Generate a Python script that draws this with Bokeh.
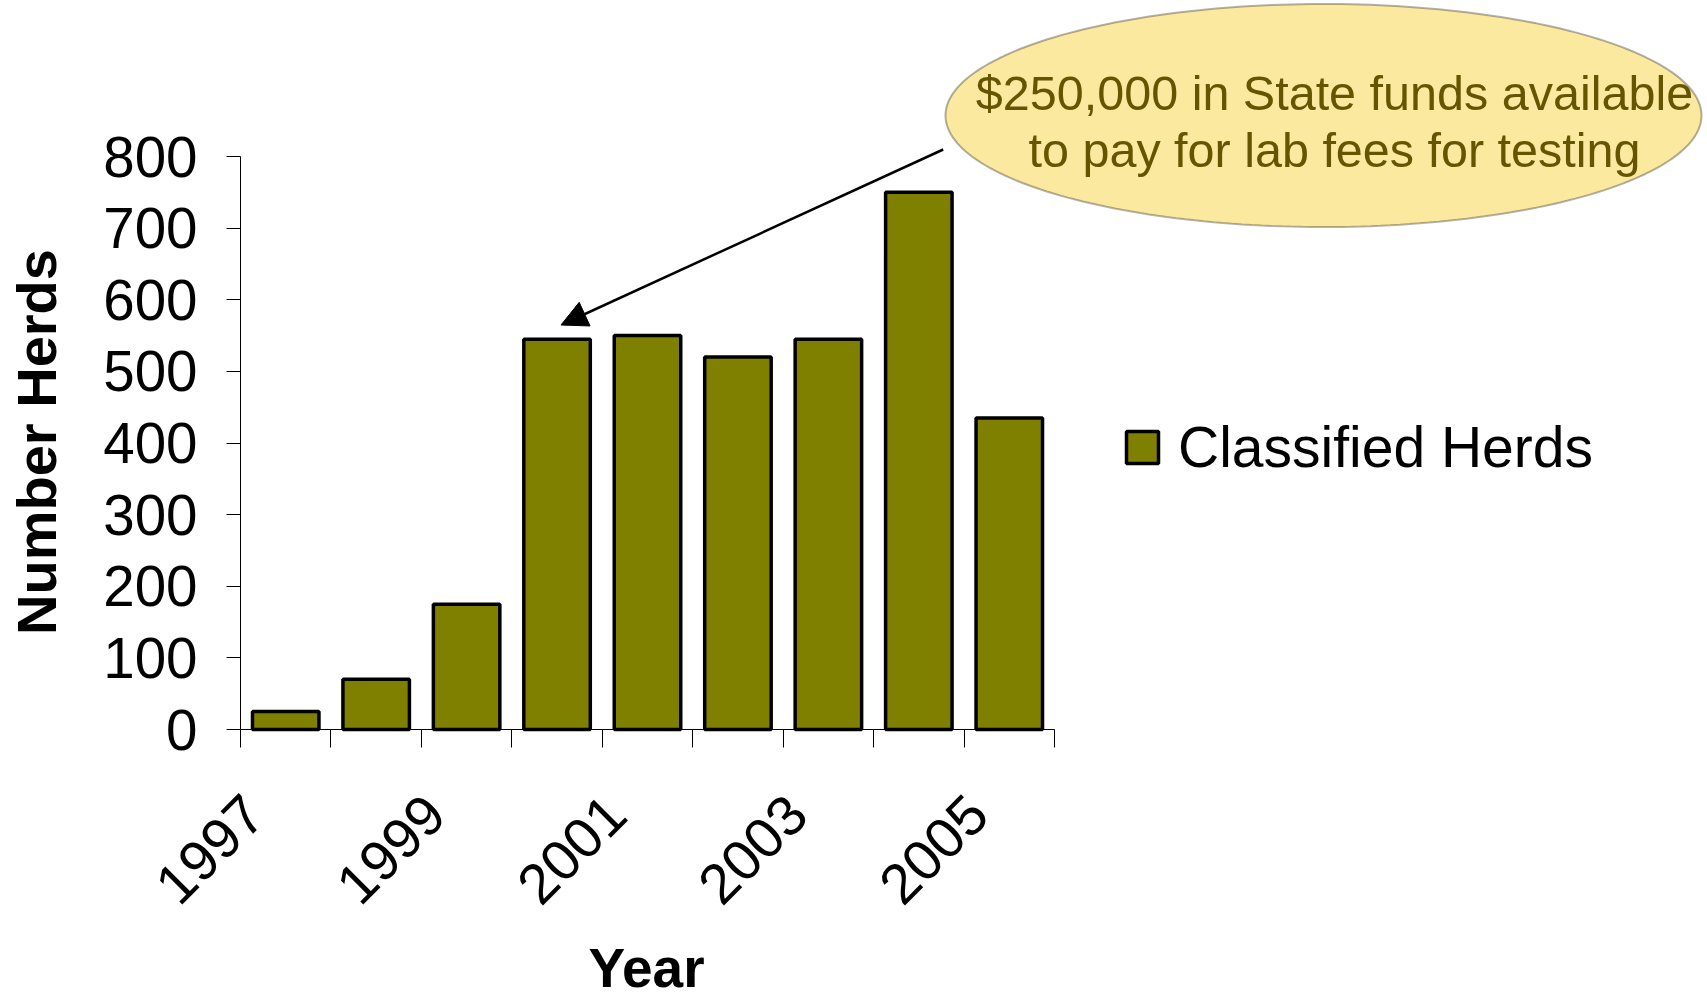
from math import pi
import numpy as np
from bokeh.plotting import figure
from bokeh.models import (Range1d, FixedTicker, Legend, LegendItem, Label, Arrow,
                          NormalHead, PolyAnnotation)
from bokeh.embed import file_html
from bokeh.resources import INLINE

# ---- data ----
years = [1997, 1998, 1999, 2000, 2001, 2002, 2003, 2004, 2005]
classified_herds = [25, 70, 175, 545, 550, 520, 545, 750, 435]
labeled_years = [1997, 1999, 2001, 2003, 2005]
y_ticks = [0, 100, 200, 300, 400, 500, 600, 700, 800]
series_name = "Classified Herds"
callout_lines = ["$250,000 in State funds available", "to pay for lab fees for testing"]
x_title = "Year"
y_title = "Number Herds"

# ---- layout (canvas pixels) ----
W, H = 1704, 1004
AX_L = 240        # pixel of the y axis (left end of x axis)
AX_R = 1054       # right end of x axis
AX_B = 729        # pixel of y = 0 (x axis)
AX_T = 156        # pixel of y = 800
FONT = "Liberation Sans"
LABEL_SHIFT = -0.35   # rotated year labels sit left of category centre
BASE = 0.367          # label anchor -> baseline offset, in em

XA0, XA1 = years[0] - 0.5, years[-1] + 0.5
YA0, YA1 = y_ticks[0], y_ticks[-1]


def dx(px):
    return XA0 + (px - AX_L) / (AX_R - AX_L) * (XA1 - XA0)


def dy(py):
    return YA0 + (AX_B - py) / (AX_B - AX_T) * (YA1 - YA0)


p = figure(width=W, height=H, title=None,
           x_range=Range1d(dx(0), dx(W)), y_range=Range1d(dy(H), dy(0)),
           min_border=0, min_border_left=0, min_border_right=0, min_border_top=0,
           min_border_bottom=0, output_backend="svg", toolbar_location=None)
p.outline_line_color = None
p.xgrid.visible = False
p.ygrid.visible = False

bars = p.vbar(x=years, top=classified_herds, width=0.735, fill_color="#808000",
              line_color="black", line_width=3.5)

# y axis (fixed at the first category edge)
ya = p.yaxis[0]
ya.fixed_location = XA0
ya.bounds = (YA0, YA1)
ya.ticker = FixedTicker(ticks=y_ticks)
ya.major_tick_out = 14
ya.major_tick_in = 0
ya.minor_tick_line_color = None
ya.major_label_standoff = 29
ya.major_label_text_font = FONT
ya.major_label_text_font_size = "56.5px"
ya.major_label_text_color = "black"
ya.axis_line_color = "black"
ya.major_tick_line_color = "black"

# x axis (fixed at y = 0)
xa = p.xaxis[0]
xa.fixed_location = YA0
xa.bounds = (XA0, XA1)
label_ticks = [y + LABEL_SHIFT for y in labeled_years]
xa.ticker = FixedTicker(ticks=label_ticks,
                        minor_ticks=[y - 0.5 for y in years] + [years[-1] + 0.5])
xa.major_label_overrides = {t: str(y) for t, y in zip(label_ticks, labeled_years)}
xa.major_tick_line_color = None
xa.major_tick_out = 0
xa.major_tick_in = 0
xa.minor_tick_out = 18
xa.minor_tick_in = 0
xa.minor_tick_line_color = "black"
xa.axis_line_color = "black"
xa.major_label_orientation = pi / 4
xa.major_label_standoff = 57
xa.major_label_text_font = FONT
xa.major_label_text_font_size = "56.5px"
xa.major_label_text_color = "black"

# axis titles (kept fully inside the canvas)
p.add_layout(Label(x=dx(36), y=dy(441.5), text=y_title, angle=pi / 2,
                   text_align="center", text_baseline="alphabetic", text_font=FONT,
                   text_font_size="56px", text_font_style="bold", text_color="black"))
p.add_layout(Label(x=dx(646), y=dy(988 - BASE * 55), text=x_title,
                   text_align="center", text_baseline="alphabetic", text_font=FONT,
                   text_font_size="55px", text_font_style="bold", text_color="black"))

# legend
LEG_H = 66
legend = Legend(items=[LegendItem(label=series_name, renderers=[bars])],
                location=(1122, H - 447 - LEG_H / 2), orientation="vertical",
                border_line_color=None, background_fill_alpha=0,
                glyph_width=40, glyph_height=40, label_standoff=16,
                padding=0, margin=0, label_text_font=FONT,
                label_text_font_size="57px", label_text_color="black")
p.add_layout(legend, "center")

# callout ellipse
t = np.linspace(0, 2 * pi, 240)
ecx, ecy, erx, ery = 1323, 115, 378, 111.5
ell = PolyAnnotation(xs=[dx(ecx + erx * c) for c in np.cos(t)],
                     ys=[dy(ecy + ery * s) for s in np.sin(t)],
                     fill_color="#FCE9A0", fill_alpha=1.0,
                     line_color="black", line_width=2)
p.add_layout(ell)

for line, base in zip(callout_lines, [110.5, 167]):
    p.add_layout(Label(x=dx(1334), y=dy(base - BASE * 48.5), text=line,
                       text_align="center", text_baseline="alphabetic", text_font=FONT,
                       text_font_size="48.5px", text_color="#665500"))

p.add_layout(Arrow(end=NormalHead(size=26, fill_color="black", line_color="black",
                                  line_width=1),
                   x_start=dx(942.7), y_start=dy(149), x_end=dx(560.5), y_end=dy(324.5),
                   line_color="black", line_width=2.5))

open("out.html", "w").write(file_html(p, INLINE))
